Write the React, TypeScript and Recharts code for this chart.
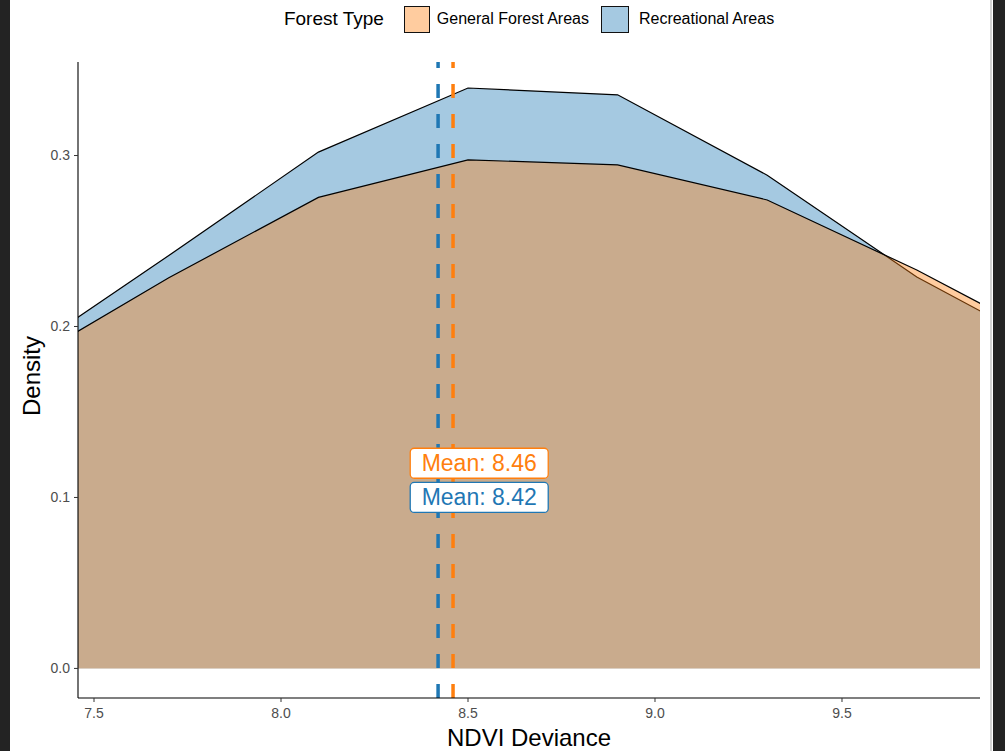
import { ComposedChart, Area, XAxis, YAxis, ReferenceLine, Scatter, Label } from 'recharts'

const FONT = '"Liberation Sans", Arial, Helvetica, sans-serif'

// density estimates (grid step 0.4, ends run past the panel and get clipped)
const ndviGrid = [7.3, 7.7, 8.1, 8.5, 8.9, 9.3, 9.7, 10.1]
const generalDensity = [0.177, 0.2285, 0.2755, 0.2975, 0.2945, 0.274, 0.233, 0.187]
const recreationalDensity = [0.182, 0.2415, 0.302, 0.3395, 0.3355, 0.2885, 0.229, 0.182]

const xTicks = [7.5, 8, 8.5, 9, 9.5]
const yTicks = [0, 0.1, 0.2, 0.3]

const meanGeneral = 8.46
const meanRecreational = 8.42

const labelX = [8.53, 8.53]
const labelY = [0.12, 0.1]
const labelText = ['Mean: 8.46', 'Mean: 8.42']

const ORANGE = '#ff7f0e'
const BLUE = '#1f77b4'

const data = ndviGrid.map((x, i) => ({
  x,
  general: generalDensity[i],
  recreational: recreationalDensity[i],
}))

const labelData = labelX.map((x, i) => ({
  x,
  y: labelY[i],
  text: labelText[i],
  color: i === 0 ? ORANGE : BLUE,
}))

const MeanLabel = (props: any) => {
  const { cx, cy, payload } = props
  if (cx == null || cy == null) return null
  return (
    <g>
      <rect
        x={cx - 69}
        y={cy - 15}
        width={138}
        height={30}
        rx={4}
        fill="#ffffff"
        stroke={payload.color}
        strokeWidth={1.3}
      />
      <text
        x={cx}
        y={cy + 8}
        textAnchor="middle"
        fontSize={23}
        fontFamily={FONT}
        fill={payload.color}
      >
        {payload.text}
      </text>
    </g>
  )
}

const LegendBar = () => (
  <div
    style={{
      position: 'absolute',
      left: 0,
      top: 5,
      width: 1058,
      height: 28,
      display: 'flex',
      justifyContent: 'center',
      alignItems: 'center',
      fontFamily: FONT,
      color: '#000',
    }}
  >
    <span style={{ fontSize: 19, marginRight: 20 }}>Forest Type</span>
    <span
      style={{
        width: 26,
        height: 27,
        boxSizing: 'border-box',
        border: '1.5px solid #111',
        background: 'rgba(255,127,14,0.4)',
        marginRight: 7,
      }}
    />
    <span style={{ fontSize: 16, marginRight: 12 }}>General Forest Areas</span>
    <span
      style={{
        width: 28,
        height: 27,
        boxSizing: 'border-box',
        border: '1.5px solid #111',
        background: 'rgba(31,119,180,0.4)',
        marginRight: 10,
      }}
    />
    <span style={{ fontSize: 16 }}>Recreational Areas</span>
  </div>
)

export default function App() {
  return (
    <div
      style={{
        position: 'fixed',
        left: 0,
        top: 0,
        width: 1005,
        height: 751,
        background: '#ffffff',
        overflow: 'hidden',
      }}
    >
      <ComposedChart
        width={1005}
        height={751}
        data={data}
        margin={{ top: 62, right: 25, bottom: 0, left: 0 }}
      >
        <XAxis
          type="number"
          dataKey="x"
          domain={[7.4572, 9.869]}
          allowDataOverflow
          ticks={xTicks}
          tickFormatter={(v: number) => v.toFixed(1)}
          height={53}
          tickSize={4}
          tickMargin={6}
          axisLine={{ stroke: '#000', strokeWidth: 1.1 }}
          tickLine={{ stroke: '#333' }}
          tick={{ fill: '#4d4d4d', fontSize: 14, fontFamily: FONT }}
        >
          <Label
            content={(p: any) => {
              const vb = p.viewBox || {}
              return (
                <text
                  x={vb.x + vb.width / 2}
                  y={746}
                  textAnchor="middle"
                  fontSize={24}
                  fontFamily={FONT}
                  fill="#000"
                >
                  NDVI Deviance
                </text>
              )
            }}
          />
        </XAxis>
        <YAxis
          type="number"
          domain={[-0.0173, 0.3547]}
          allowDataOverflow
          ticks={yTicks}
          tickFormatter={(v: number) => v.toFixed(1)}
          width={78}
          tickSize={4}
          tickMargin={4}
          axisLine={{ stroke: '#000', strokeWidth: 1.1 }}
          tickLine={{ stroke: '#333' }}
          tick={{ fill: '#4d4d4d', fontSize: 14, fontFamily: FONT }}
        >
          <Label
            content={() => (
              <text
                x={40}
                y={376}
                transform="rotate(-90 40 376)"
                textAnchor="middle"
                fontSize={24}
                fontFamily={FONT}
                fill="#000"
              >
                Density
              </text>
            )}
          />
        </YAxis>
        <Area
          type="linear"
          dataKey="recreational"
          baseValue={0}
          fill={BLUE}
          fillOpacity={0.4}
          stroke="#000"
          strokeWidth={1.2}
          isAnimationActive={false}
          dot={false}
          activeDot={false}
        />
        <Area
          type="linear"
          dataKey="general"
          baseValue={0}
          fill={ORANGE}
          fillOpacity={0.4}
          stroke="#000"
          strokeWidth={1.2}
          isAnimationActive={false}
          dot={false}
          activeDot={false}
        />
        <ReferenceLine
          x={meanRecreational}
          stroke={BLUE}
          strokeWidth={3.5}
          strokeDasharray="14 16"
        />
        <ReferenceLine
          x={meanGeneral}
          stroke={ORANGE}
          strokeWidth={3.5}
          strokeDasharray="14 16"
        />
        <Scatter
          data={labelData}
          dataKey="y"
          shape={MeanLabel}
          isAnimationActive={false}
        />
      </ComposedChart>
      <LegendBar />
      <div style={{ position: 'absolute', left: 0, top: 0, width: 10, height: 751, background: '#232323' }} />
      <div style={{ position: 'absolute', left: 990, top: 0, width: 2, height: 751, background: '#d4d4d4' }} />
      <div style={{ position: 'absolute', left: 993, top: 0, width: 12, height: 751, background: '#232323' }} />
    </div>
  )
}
